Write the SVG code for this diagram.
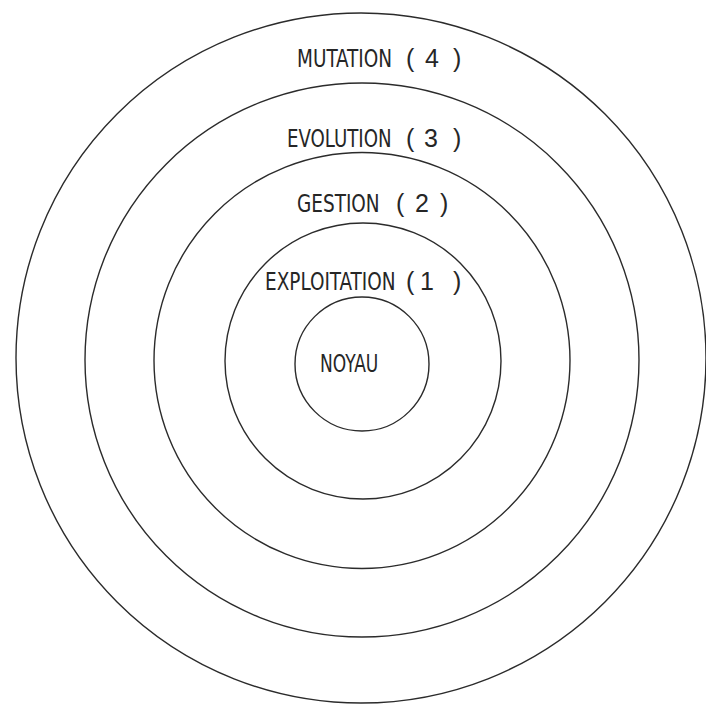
<svg xmlns="http://www.w3.org/2000/svg" width="706" height="705" viewBox="0 0 706 705">
  <style>
    .ring { fill: none; stroke: #2b2b2b; stroke-width: 1.4; }
    .lbl { font-family: "Liberation Sans Narrow", "DejaVu Sans Condensed", "Liberation Sans", sans-serif; font-size: 20.5px; fill: #262626; }
    .par { font-family: "Liberation Sans", sans-serif; font-size: 25px; fill: #262626; }
  </style>
  <rect x="0" y="0" width="706" height="705" fill="#ffffff"/>
  <g id="ring-mutation">
    <circle class="ring" cx="361" cy="358" r="345"/>
    <text class="lbl" transform="translate(297,67) scale(1,1.22)">MUTATION</text>
    <text class="par" y="67"><tspan x="406">(</tspan><tspan x="425">4</tspan><tspan x="453">)</tspan></text>
  </g>
  <g id="ring-evolution">
    <circle class="ring" cx="362" cy="360" r="277"/>
    <text class="lbl" transform="translate(287,147) scale(1,1.22)" style="font-size:20.2px">EVOLUTION</text>
    <text class="par" y="147"><tspan x="406">(</tspan><tspan x="424">3</tspan><tspan x="453">)</tspan></text>
  </g>
  <g id="ring-gestion">
    <circle class="ring" cx="362" cy="360.5" r="208"/>
    <text class="lbl" transform="translate(297,212) scale(1,1.22)">GESTION</text>
    <text class="par" y="212"><tspan x="396">(</tspan><tspan x="415">2</tspan><tspan x="440">)</tspan></text>
  </g>
  <g id="ring-exploitation">
    <circle class="ring" cx="363" cy="361" r="138"/>
    <text class="lbl" transform="translate(265,290) scale(1,1.22)">EXPLOITATION</text>
    <text class="par" y="290"><tspan x="406">(</tspan><tspan x="420">1</tspan><tspan x="453">)</tspan></text>
  </g>
  <g id="noyau">
    <circle class="ring" cx="362" cy="364" r="67"/>
    <text class="lbl" transform="translate(320,372) scale(1,1.3)" style="font-size:19px">NOYAU</text>
  </g>
</svg>
